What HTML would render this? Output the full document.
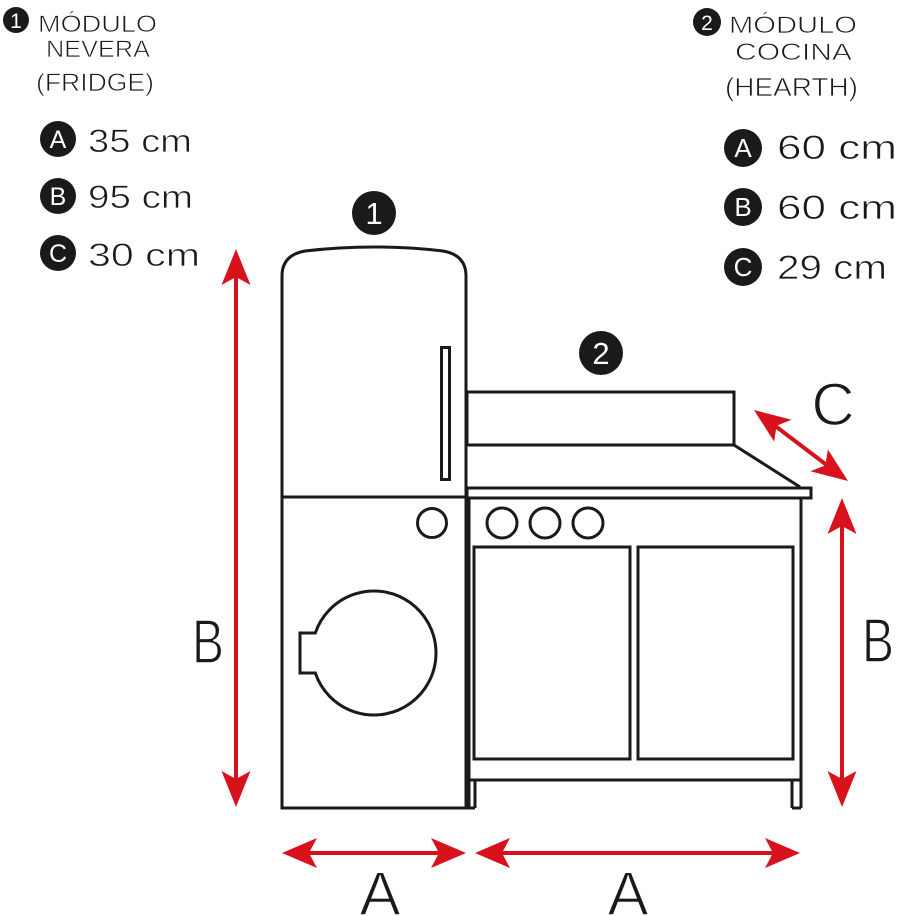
<!DOCTYPE html>
<html>
<head>
<meta charset="utf-8">
<style>
  html,body{margin:0;padding:0;background:#fff;}
  svg{display:block;}
  text{font-family:"Liberation Sans", sans-serif;}
  .thin{stroke:#fff;stroke-width:0.7px;}
  .big{stroke:#fff;stroke-width:1.4px;}
</style>
</head>
<body>
<svg width="899" height="916" viewBox="0 0 899 916" xmlns="http://www.w3.org/2000/svg">
  <rect x="0" y="0" width="899" height="916" fill="#fff"/>

  <!-- ===== Left header ===== -->
  <circle cx="16" cy="20" r="13" fill="#1a1a1a"/>
  <text x="16" y="28" font-size="21" fill="#fff" text-anchor="middle">1</text>
  <text class="thin" x="38" y="32" font-size="24" fill="#1a1a1a" textLength="119" lengthAdjust="spacingAndGlyphs">MÓDULO</text>
  <text class="thin" x="46" y="57" font-size="24" fill="#1a1a1a" textLength="104" lengthAdjust="spacingAndGlyphs">NEVERA</text>
  <text class="thin" x="36" y="91" font-size="25" fill="#1a1a1a" textLength="118" lengthAdjust="spacingAndGlyphs">(FRIDGE)</text>

  <circle cx="58" cy="139" r="18" fill="#1a1a1a"/>
  <text x="58" y="148" font-size="25" fill="#fff" text-anchor="middle">A</text>
  <text class="thin" x="88" y="152" font-size="32" fill="#1a1a1a" textLength="104" lengthAdjust="spacingAndGlyphs">35 cm</text>

  <circle cx="58" cy="196" r="18" fill="#1a1a1a"/>
  <text x="58" y="205" font-size="25" fill="#fff" text-anchor="middle">B</text>
  <text class="thin" x="88" y="208" font-size="32" fill="#1a1a1a" textLength="105" lengthAdjust="spacingAndGlyphs">95 cm</text>

  <circle cx="58" cy="253" r="18" fill="#1a1a1a"/>
  <text x="58" y="262" font-size="25" fill="#fff" text-anchor="middle">C</text>
  <text class="thin" x="88" y="266" font-size="32" fill="#1a1a1a" textLength="112" lengthAdjust="spacingAndGlyphs">30 cm</text>

  <!-- ===== Right header ===== -->
  <circle cx="707" cy="22" r="14" fill="#1a1a1a"/>
  <text x="707" y="30" font-size="21" fill="#fff" text-anchor="middle">2</text>
  <text class="thin" x="729" y="33" font-size="24" fill="#1a1a1a" textLength="128" lengthAdjust="spacingAndGlyphs">MÓDULO</text>
  <text class="thin" x="735" y="60" font-size="24" fill="#1a1a1a" textLength="117" lengthAdjust="spacingAndGlyphs">COCINA</text>
  <text class="thin" x="725" y="96" font-size="26" fill="#1a1a1a" textLength="133" lengthAdjust="spacingAndGlyphs">(HEARTH)</text>

  <circle cx="743" cy="148" r="19" fill="#1a1a1a"/>
  <text x="743" y="157" font-size="26" fill="#fff" text-anchor="middle">A</text>
  <text class="thin" x="777" y="159" font-size="34" fill="#1a1a1a" textLength="120" lengthAdjust="spacingAndGlyphs">60 cm</text>

  <circle cx="743" cy="207" r="19" fill="#1a1a1a"/>
  <text x="743" y="216" font-size="26" fill="#fff" text-anchor="middle">B</text>
  <text class="thin" x="777" y="219" font-size="34" fill="#1a1a1a" textLength="120" lengthAdjust="spacingAndGlyphs">60 cm</text>

  <circle cx="743" cy="267" r="19" fill="#1a1a1a"/>
  <text x="743" y="276" font-size="26" fill="#fff" text-anchor="middle">C</text>
  <text class="thin" x="777" y="279" font-size="34" fill="#1a1a1a" textLength="110" lengthAdjust="spacingAndGlyphs">29 cm</text>

  <!-- ===== Diagram badges ===== -->
  <circle cx="374" cy="213" r="22" fill="#1a1a1a"/>
  <text x="374" y="224" font-size="31" fill="#fff" text-anchor="middle">1</text>
  <circle cx="601" cy="353" r="22" fill="#1a1a1a"/>
  <text x="601" y="364" font-size="31" fill="#fff" text-anchor="middle">2</text>

  <!-- ===== Fridge ===== -->
  <g fill="none" stroke="#1a1a1a" stroke-width="3">
    <path d="M282,808 L282,276 Q282,255 305,251 Q374,243 443,251 Q466,255 466,276 L466,808 Z"/>
    <line x1="282" y1="497" x2="466" y2="497"/>
    <rect x="441.5" y="347.5" width="8" height="132"/>
    <circle cx="432" cy="523" r="14.5"/>
    <path d="M315.3,633 A62,62 0 1,1 315.3,673 L300,673 L300,633 Z"/>
  </g>

  <!-- ===== Kitchen ===== -->
  <g fill="none" stroke="#1a1a1a" stroke-width="3">
    <rect x="467" y="392" width="267" height="53"/>
    <line x1="734" y1="445" x2="800" y2="487"/>
    <rect x="467" y="488" width="344" height="10"/>
    <line x1="469" y1="498" x2="469" y2="808"/>
    <line x1="801" y1="498" x2="801" y2="808"/>
    <line x1="469" y1="780" x2="801" y2="780"/>
    <line x1="475" y1="780" x2="475" y2="808"/>
    <line x1="466" y1="808" x2="475" y2="808"/>
    <line x1="792" y1="780" x2="792" y2="808"/>
    <line x1="792" y1="808" x2="801" y2="808"/>
    <circle cx="502" cy="523" r="15"/>
    <circle cx="545" cy="523" r="15"/>
    <circle cx="588" cy="523" r="15"/>
    <rect x="474" y="547" width="156" height="212"/>
    <rect x="638" y="547" width="155" height="212"/>
  </g>

  <!-- ===== Red dimension arrows ===== -->
  <g stroke="#d8121d" stroke-width="4" fill="none">
    <line x1="236" y1="270" x2="236" y2="786"/>
    <line x1="842" y1="518" x2="842" y2="786"/>
    <line x1="302" y1="853" x2="446" y2="853"/>
    <line x1="495" y1="853" x2="780" y2="853"/>
    <line x1="770" y1="422" x2="832" y2="469"/>
  </g>
  <g fill="#d8121d">
    <polygon points="236,249 250.5,285 236,277 221.5,285"/>
    <polygon points="236,807 250.5,771 236,779 221.5,771"/>
    <polygon points="842,498 856.5,534 842,526 827.5,534"/>
    <polygon points="842,807 856.5,771 842,779 827.5,771"/>
    <polygon points="282,853 317,838 309,853 317,868"/>
    <polygon points="466,853 431,838 439,853 431,868"/>
    <polygon points="475,853 510,838 502,853 510,868"/>
    <polygon points="800,853 765,838 773,853 765,868"/>
    <polygon points="754,410 791.6,419.8 776.6,425.6 774.1,441.5"/>
    <polygon points="848,481 810.4,471.2 825.4,465.4 827.9,449.5"/>
  </g>

  <!-- ===== Dimension letters ===== -->
  <text class="big" x="380" y="915" font-size="62" fill="#1a1a1a" text-anchor="middle">A</text>
  <text class="big" x="628" y="915" font-size="62" fill="#1a1a1a" text-anchor="middle">A</text>
  <text class="big" x="192" y="663" font-size="62" fill="#1a1a1a" textLength="32" lengthAdjust="spacingAndGlyphs">B</text>
  <text class="big" x="862" y="662" font-size="62" fill="#1a1a1a" textLength="32" lengthAdjust="spacingAndGlyphs">B</text>
  <text class="big" x="833" y="425" font-size="60" fill="#1a1a1a" text-anchor="middle">C</text>
</svg>
</body>
</html>
